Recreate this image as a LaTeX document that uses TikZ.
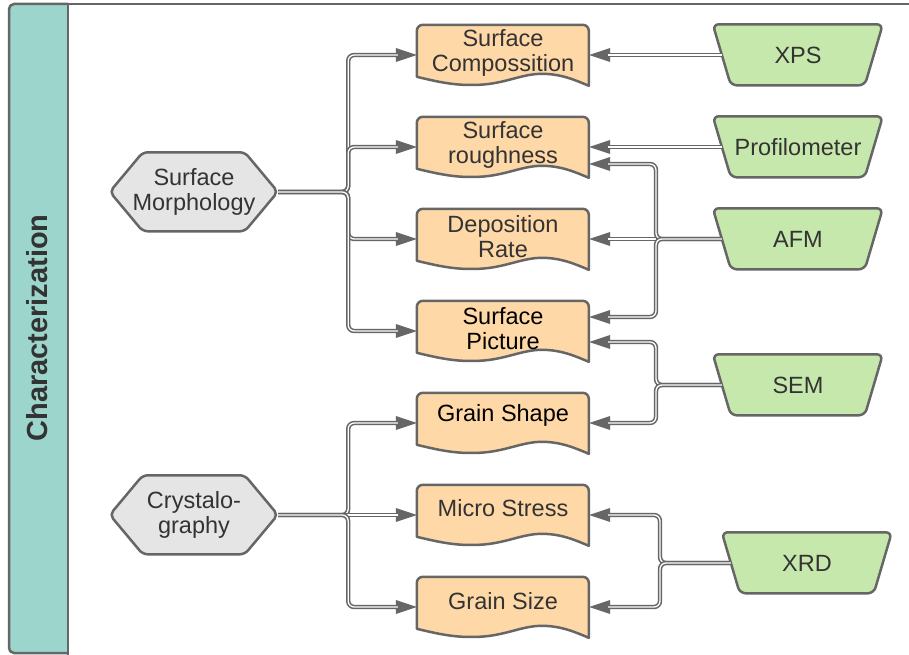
\documentclass[tikz,border=0pt]{standalone}
\usepackage{fontspec}
\setmainfont{Liberation Sans}
\usetikzlibrary{arrows.meta,calc}
\definecolor{lc}{HTML}{666666}
\definecolor{tc}{HTML}{333333}
\definecolor{stripf}{HTML}{9BD5CB}
\definecolor{docf}{HTML}{FFD8A8}
\definecolor{grn}{HTML}{C6E8AD}
\definecolor{hexf}{HTML}{E5E5E5}
\pgfdeclarelayer{bg}
\pgfsetlayers{bg,main}
\newcommand\docdraw[1]{%
  \begin{scope}[shift={(#1.north west)}]
    \draw[shapeline, fill=docf] (0,52) [rounded corners=6pt] -- (0,0) -- (172,0) -- (172,20) [sharp corners] -- (172,61)
      .. controls (160,56) and (145,49) .. (125,49)
      .. controls (105,49) and (88,59) .. (62,60)
      .. controls (40,61) and (25,58) .. (0,52) -- cycle;
  \end{scope}}
\newcommand\trapdraw[1]{%
  \begin{scope}[shift={(#1.north west)}]
    \draw[shapeline, fill=grn, rounded corners=6pt] (85,0) -- (170,0) -- (152,61) -- (18,61) -- (0,0) -- cycle;
  \end{scope}}
\newcommand\hexdraw[1]{%
  \begin{scope}[shift={(#1.north west)}]
    \draw[shapeline, fill=hexf, rounded corners=5pt] (84,0) -- (135,0) -- (168,39.5) -- (135,79) -- (33,79) -- (0,39.5) -- (33,0) -- cycle;
  \end{scope}}
\begin{document}
\begin{tikzpicture}[x=1pt,y=-1pt,
  shapeline/.style={draw=lc, line width=2.5pt, line join=round},
  lbl/.style={font=\fontsize{23.5}{25}\selectfont, text=tc, align=center, inner sep=0pt},
  docbox/.style={minimum width=172pt, minimum height=60pt, inner sep=0pt},
  trapbox/.style={minimum width=170pt, minimum height=61pt, inner sep=0pt, font=\fontsize{23.5}{25}\selectfont, text=tc, align=center},
  hexbox/.style={minimum width=168pt, minimum height=79pt, inner sep=0pt, font=\fontsize{23.5}{25}\selectfont, text=tc, align=center},
  conn/.style={draw=lc, line width=4.4pt, rounded corners=6pt,
    -{Triangle[length=21pt,width=14pt,line width=0pt]},
    postaction={draw=white, line width=1.3pt, shorten >=19pt, -}}]
\useasboundingbox (0,0) rectangle (909,655);
\clip (0,0) rectangle (909,655);

% title
\node[rotate=90, font=\fontsize{29}{29}\selectfont\bfseries, text=tc, inner sep=0pt] (title) at (37,328) {Characterization};

% hexagons
\node[hexbox] (morph) at (194,192) {Surface\\Morphology};
\node[hexbox] (cryst) at (194,515) {Crystalo-\\graphy};

% documents
\node[docbox] (sc) at (503,55) {};
\node[docbox] (sr) at (503,147) {};
\node[docbox] (dr) at (503,239) {};
\node[docbox] (sp) at (503,331) {};
\node[docbox] (gsh) at (503,423) {};
\node[docbox] (ms) at (503,515) {};
\node[docbox] (gsz) at (503,607) {};
\node[lbl] (sc-t) at ($(sc.north)+(0,28)$) {Surface\\Compossition};
\node[lbl] (sr-t) at ($(sr.north)+(0,28)$) {Surface\\roughness};
\node[lbl] (dr-t) at ($(dr.north)+(0,28)$) {Deposition\\Rate};
\node[lbl, text=black] (sp-t) at ($(sp.north)+(0,28)$) {Surface\\Picture};
\node[lbl, text=black] (gsh-t) at ($(gsh.north)+(0,23)$) {Grain Shape};
\node[lbl] (ms-t) at ($(ms.north)+(0,23)$) {Micro Stress};
\node[lbl] (gsz-t) at ($(gsz.north)+(0,24)$) {Grain Size};

% instruments
\node[trapbox] (xps) at (798,55) {XPS};
\node[trapbox] (prof) at (798,147) {Profilometer};
\node[trapbox] (afm) at (798,239) {AFM};
\node[trapbox] (sem) at (798,385) {SEM};
\node[trapbox] (xrd) at (807,563) {XRD};

\begin{pgfonlayer}{bg}
  \fill[white] (0,0) rectangle (909,655);
  \draw[shapeline, fill=stripf, rounded corners=5pt] (68,653) -- (9,653) -- (9,4) -- (68,4);
  \draw[shapeline, rounded corners=5pt] (40,4) -- (930,4);
  \draw[shapeline] (68,4) -- (68,660);
  \hexdraw{morph}
  \hexdraw{cryst}
  \docdraw{sc}\docdraw{sr}\docdraw{dr}\docdraw{sp}\docdraw{gsh}\docdraw{ms}\docdraw{gsz}
  \trapdraw{xps}\trapdraw{prof}\trapdraw{afm}\trapdraw{sem}\trapdraw{xrd}
\end{pgfonlayer}

% junctions
\coordinate (afmj) at (656,239);
\coordinate (semj) at (656,385);
\coordinate (xrdj) at (660,563);

% left trees
\draw[conn] (morph.east) -- ++(70,0) |- (sc.west);
\draw[conn] (morph.east) -- ++(70,0) |- (sr.west);
\draw[conn] (morph.east) -- ++(70,0) |- (dr.west);
\draw[conn] (morph.east) -- ++(70,0) |- (sp.west);
\draw[conn] (cryst.east) -- ++(70,0) |- (gsh.west);
\draw[conn] (cryst.east) -- (ms.west);
\draw[conn] (cryst.east) -- ++(70,0) |- (gsz.west);

% right side
\draw[conn] ($(xps.west)+(9,0)$) -- (sc.east);
\draw[conn] ($(prof.west)+(9,0)$) -- (sr.east);
\draw[conn] ($(afm.west)+(9,0)$) -- (dr.east);
\draw[conn] ($(afm.west)+(9,0)$) -- (afmj) |- ($(sr.east)+(0,17)$);
\draw[conn] ($(afm.west)+(9,0)$) -- (afmj) |- ($(sp.east)+(0,-14)$);
\draw[conn] ($(sem.west)+(9,0)$) -- (semj) |- ($(sp.east)+(0,11)$);
\draw[conn] ($(sem.west)+(9,0)$) -- (semj) |- (gsh.east);
\draw[conn] ($(xrd.west)+(9,0)$) -- (xrdj) |- (ms.east);
\draw[conn] ($(xrd.west)+(9,0)$) -- (xrdj) |- (gsz.east);
\end{tikzpicture}
\end{document}
